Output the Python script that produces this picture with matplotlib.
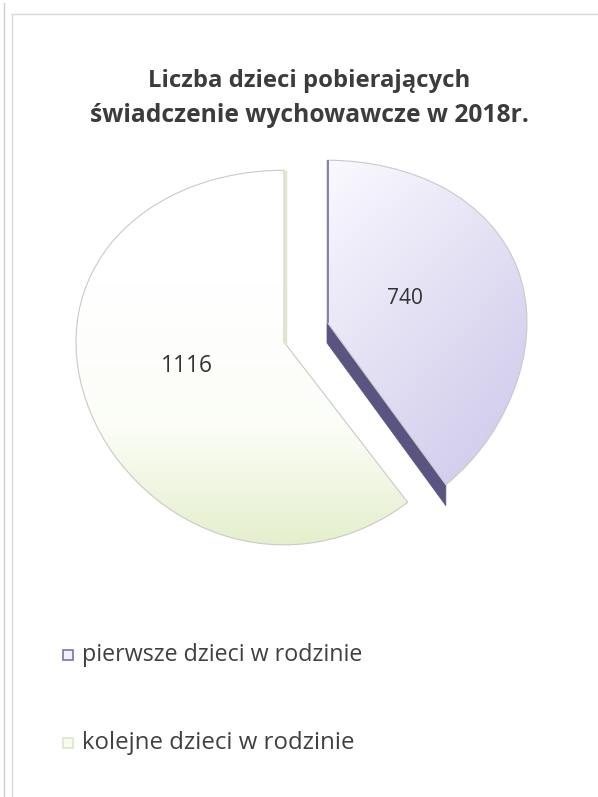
import numpy as np
import matplotlib
matplotlib.use("Agg")
import matplotlib.pyplot as plt
from matplotlib.patches import Polygon
from matplotlib.colors import LinearSegmentedColormap

# ---- data ----
title = "Liczba dzieci pobierających\nświadczenie wychowawcze w 2018r."
categories = ["pierwsze dzieci w rodzinie", "kolejne dzieci w rodzinie"]
values = [740, 1116]

W, H = 598, 797
fig = plt.figure(figsize=(W / 100, H / 100), dpi=100)
fig.patch.set_facecolor("white")


def make_scale(k):
    return (lambda y: y / (1 + k * y)), (lambda y: y / (1 - k * y))


def pie_axes(cx, cy, rx, ppu, k):
    """Axes covering the figure with the pie apex at pixel (cx, cy) and a
    perspective-like vertical scale (top compressed, bottom expanded)."""
    fwd, inv = make_scale(k)
    ax = fig.add_axes([0, 0, 1, 1])
    ax.patch.set_alpha(0)
    wedges, _ = ax.pie(values, startangle=90, counterclock=False, radius=1.0,
                       wedgeprops=dict(linewidth=0.8, edgecolor="#c9c9c9"))
    ax.set_aspect("auto")
    ax.set_yscale("function", functions=(fwd, inv))
    ax.set_xlim(-cx / rx, (W - cx) / rx)
    ax.set_ylim(inv(-(H - cy) / ppu), inv(cy / ppu))
    ax.axis("off")
    return ax, wedges, fwd, inv


# second slice (kolejne) – not exploded
ax_g, wg, fwd_g, inv_g = pie_axes(284, 342, 208, 186.0, 0.083)
wg[0].set_visible(False)
# first slice (pierwsze) – exploded to the right, own perspective
ax_p, wp, fwd_p, inv_p = pie_axes(327, 322, 200, 182.0, 0.125)
wp[1].set_visible(False)

cm_p = LinearSegmentedColormap.from_list("p", ["#fbfaff", "#e6e3f5", "#d1ccec"])
cm_g = LinearSegmentedColormap.from_list("g", ["#ffffff", "#fbfdf6", "#e3eec9"])
yy, xx = np.mgrid[0:1:200j, 0:1:200j]
grad_p = np.clip(0.45 * xx + 0.75 * yy, 0, 1)
grad_g = np.clip((yy - 0.35) / 0.65, 0, 1) ** 1.2
for ax, w, cmap, g, ext in [(ax_p, wp[0], cm_p, grad_p, (0, 1.05, -1.05, 1.05)),
                            (ax_g, wg[1], cm_g, grad_g, (-1.05, 0.7, -1.05, 1.05))]:
    w.set_facecolor("none")
    w.set_zorder(3)
    im = ax.imshow(g, cmap=cmap, extent=ext, origin="upper", aspect="auto",
                   zorder=2, vmin=0, vmax=1)
    im.set_clip_path(w)

# 3D side face of the exploded slice
frac = values[0] / sum(values)
theta_end = np.deg2rad(90 - 360 * frac)
e = np.array([np.cos(theta_end), np.sin(theta_end)])
dpx = 21
vb = inv_p(0 - dpx / 182.0)
eb = inv_p(fwd_p(e[1]) - dpx / 182.0)
side = Polygon([[0, 0], e, [e[0], eb], [0, vb]], closed=True,
               facecolor="#5a5480", edgecolor="#5a5480", lw=0.5, zorder=1)
ax_p.add_patch(side)
ax_p.plot([0.003, 0.003], [0, 0.995], color="#7e7aa3", lw=1.3, zorder=4)
# light side face of the other slice (its vertical edge)
ax_g.plot([0.006, 0.006], [0, 0.99], color="#dfe6cf", lw=2.5, zorder=4)

renderer = fig.canvas.get_renderer()


def fit_text(x, y, s, width_px, ha="center", **kw):
    t = fig.text(x / W, 1 - y / H, s, ha=ha, va="center", **kw)
    fs = kw.get("fontsize", 12)
    for _ in range(3):
        bb = t.get_window_extent(renderer)
        fs = fs * width_px / bb.width
        t.set_fontsize(fs)
    return t


# title
lines = title.split("\n")
fit_text(309, 81, lines[0], 322, fontsize=15, fontweight="bold",
         color="#3c3c3c", family="Open Sans")
fit_text(309, 116, lines[1], 438, fontsize=15, fontweight="bold",
         color="#3c3c3c", family="Open Sans")

# value labels
fit_text(405, 298, str(values[0]), 36, fontsize=13, color="#333333", family="Open Sans")
fit_text(187, 366, str(values[1]), 52, fontsize=13, color="#333333", family="Open Sans")

# legend
leg_y = [655, 743]
leg_edge = ["#7a74a8", "#dde8c4"]
leg_face = ["#f2f0fa", "#f7fbee"]
leg_w = [280, 272]
for name, y, ec, fc, wpx in zip(categories, leg_y, leg_edge, leg_face, leg_w):
    fig.add_artist(plt.Rectangle((63 / W, 1 - (y + 5) / H), 10 / W, 10 / H,
                                 transform=fig.transFigure, facecolor=fc,
                                 edgecolor=ec, lw=1.2))
    fit_text(82, y, name, wpx, ha="left", fontsize=13, color="#404040",
             family="Open Sans")

# frame lines of the scanned chart area
fig.add_artist(plt.Line2D([4 / W, 4 / W], [0, 1 - 3 / H], transform=fig.transFigure,
                          color="#cfcfcf", lw=1))
fig.add_artist(plt.Line2D([12 / W, 12 / W], [0, 1 - 14 / H], transform=fig.transFigure,
                          color="#d8d8d8", lw=1))
fig.add_artist(plt.Line2D([12 / W, 1], [1 - 14 / H, 1 - 14 / H], transform=fig.transFigure,
                          color="#d8d8d8", lw=1))

fig.savefig("out.png", dpi=100, facecolor="white")
